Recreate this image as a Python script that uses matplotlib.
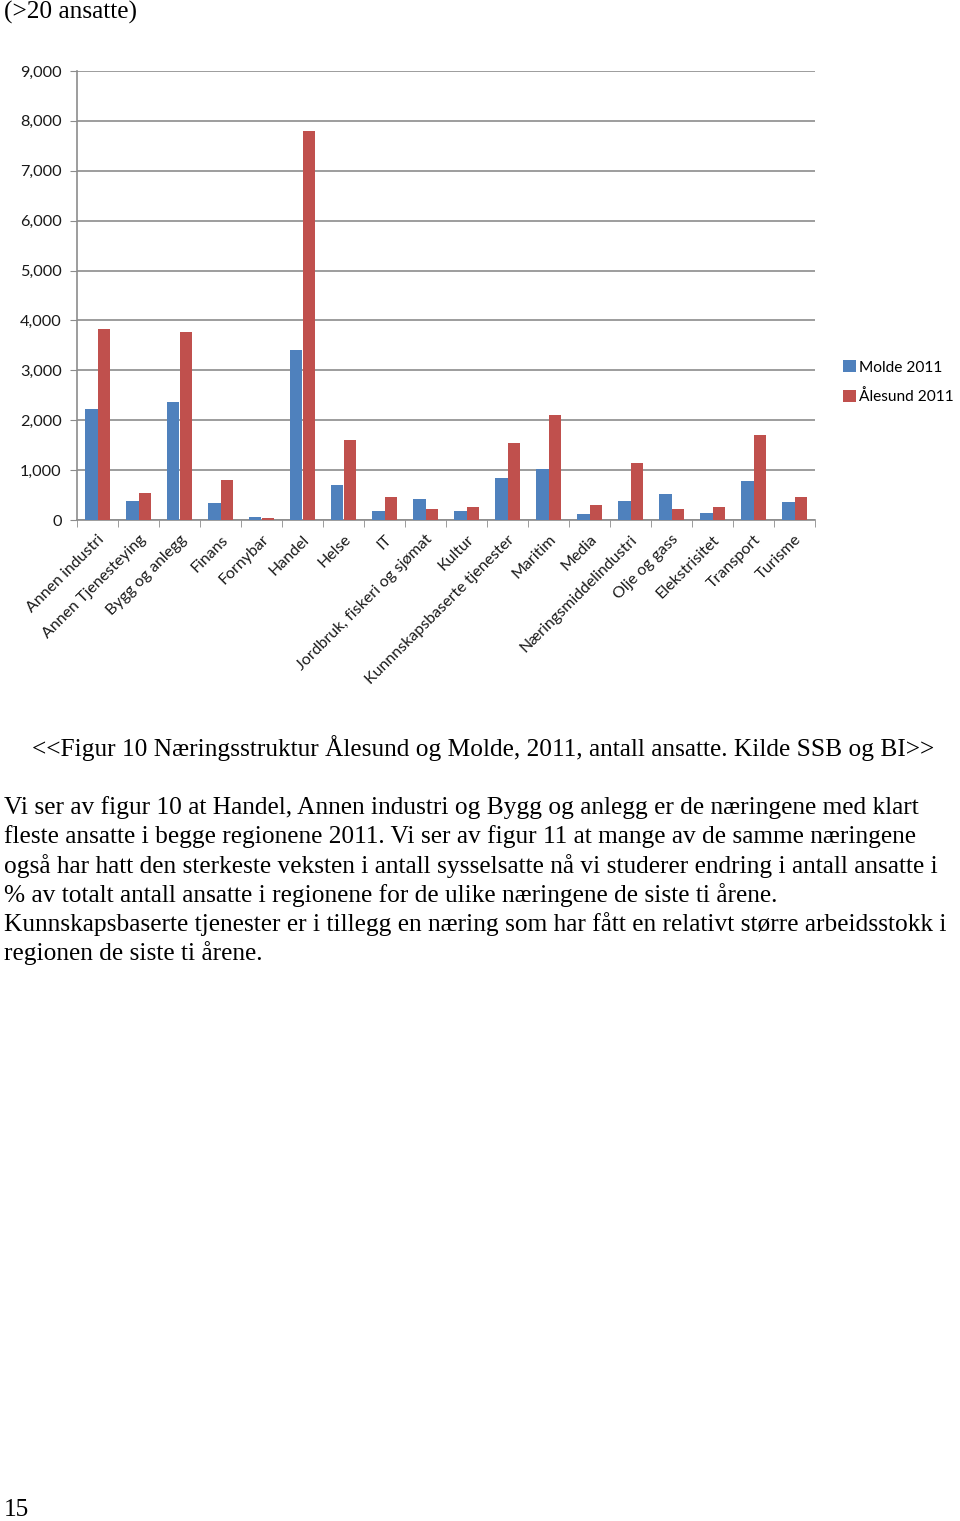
import matplotlib.pyplot as plt
import matplotlib
import numpy as np
from matplotlib.ticker import FuncFormatter, FixedLocator

matplotlib.rcParams['font.family'] = ['Lato', 'DejaVu Sans']

categories = ['Annen industri', 'Annen Tjenesteying', 'Bygg og anlegg', 'Finans', 'Fornybar',
              'Handel', 'Helse', 'IT', 'Jordbruk, fiskeri og sjømat', 'Kultur',
              'Kunnnskapsbaserte tjenester', 'Maritim', 'Media', 'Næringsmiddelindustri',
              'Olje og gass', 'Elekstrisitet', 'Transport', 'Turisme']
molde = [2230, 388, 2358, 335, 60, 3409, 710, 174, 415, 174,
         844, 1025, 121, 382, 522, 141, 790, 355]
alesund = [3838, 549, 3764, 810, 33, 7790, 1601, 469, 221, 255,
           1547, 2110, 308, 1145, 221, 255, 1708, 469]
series_names = ['Molde 2011', 'Ålesund 2011']

body_lines = [
    'Vi ser av figur 10 at Handel, Annen industri og Bygg og anlegg er de næringene med klart',
    'fleste ansatte i begge regionene 2011. Vi ser av figur 11 at mange av de samme næringene',
    'også har hatt den sterkeste veksten i antall sysselsatte nå vi studerer endring i antall ansatte i',
    '% av totalt antall ansatte i regionene for de ulike næringene de siste ti årene.',
    'Kunnskapsbaserte tjenester er i tillegg en næring som har fått en relativt større arbeidsstokk i',
    'regionen de siste ti årene.',
]

W, H = 960, 1521
fig = plt.figure(figsize=(W / 100, H / 100), dpi=100, facecolor='white')

ax = fig.add_axes([77 / W, 1 - 520 / H, 738 / W, 449 / H])
x = np.arange(len(categories)) + 0.5
bw = 0.3
ax.bar(x - bw / 2, molde, bw, color='#4F81BD', label=series_names[0], zorder=3)
ax.bar(x + bw / 2, alesund, bw, color='#C0504D', label=series_names[1], zorder=3)

ax.set_xlim(0, len(categories))
ax.set_ylim(0, 9000)
ax.set_yticks(np.arange(0, 9001, 1000))
ax.yaxis.set_major_formatter(FuncFormatter(lambda v, p: '{:,.0f}'.format(v)))
ax.yaxis.grid(True, color='#8c8c8c', linewidth=1.2, zorder=0)

ax.xaxis.set_major_locator(FixedLocator(x))
ax.xaxis.set_minor_locator(FixedLocator(np.arange(0, len(categories) + 1)))
ax.set_xticklabels(categories, rotation=45, ha='right', va='top', rotation_mode='anchor',
                   fontsize=11.5, color='#1a1a1a')
ax.tick_params(axis='x', which='major', length=0, pad=9)
ax.tick_params(axis='x', which='minor', length=5, color='#8c8c8c')
ax.tick_params(axis='y', length=5, color='#8c8c8c', labelsize=11.7, labelcolor='#1a1a1a', pad=6)

for s in ['top', 'right']:
    ax.spines[s].set_visible(False)
for s in ['left', 'bottom']:
    ax.spines[s].set_color('#8c8c8c')
    ax.spines[s].set_linewidth(1.2)

fig.legend(loc='upper left', bbox_to_anchor=(837 / W, 1 - 354 / H), frameon=False,
           fontsize=11.2, handlelength=0.8, handleheight=0.8, handletextpad=0.2,
           labelspacing=0.95, borderaxespad=0)

serif = ['Liberation Serif', 'DejaVu Serif']
fs = 18.3
fig.text(4 / W, 1 - 12 / H, '(>20 ansatte)', family=serif, fontsize=fs, va='center', ha='left')
fig.text(32 / W, 1 - 748 / H,
         '<<Figur 10 Næringsstruktur Ålesund og Molde, 2011, antall ansatte. Kilde SSB og BI>>',
         family=serif, fontsize=fs, va='center', ha='left')
for i, line in enumerate(body_lines):
    fig.text(4 / W, 1 - (808 + 29 * i) / H, line, family=serif, fontsize=fs,
             va='center', ha='left')
fig.text(4 / W, 1 - 1510 / H, '15', family=serif, fontsize=fs, va='center', ha='left')

fig.savefig('out.png', dpi=100)
